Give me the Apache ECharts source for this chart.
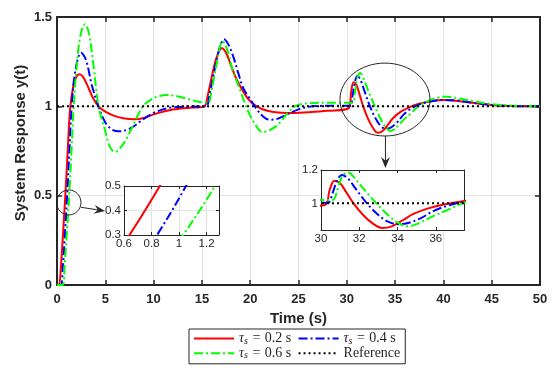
<!DOCTYPE html>
<html>
<head>
<meta charset="utf-8">
<script src="https://cdn.jsdelivr.net/npm/echarts@6/dist/echarts.min.js"></script>
<style>
  html, body { margin: 0; padding: 0; background: #fff; }
  #chart { width: 556px; height: 377px; }
</style>
</head>
<body>
<div id="chart"></div>
<script>
// series names (legend)
const names = ['tau02', 'tau04', 'tau06', 'Reference'];

// tau_s = 0.2 s  (red)
const tRed = [0, 0.2, 0.4, 0.64, 0.86, 1.1, 1.35, 1.7, 2.0, 2.3, 2.7, 3.2, 3.7, 4.3, 5.0, 6.0, 7.0, 8.0, 9.0, 10, 12, 14, 15.2,
  15.6, 16.0, 16.5, 17.05, 17.5, 18.0, 18.6, 19.2, 19.8, 20.4, 21.2, 22.4, 24, 26, 28, 30.2,
  30.45, 30.7, 31.0, 31.3, 31.7, 32.2, 32.7, 33.2, 33.7, 34.3, 34.8, 35.6, 36.4, 37.4, 38.6, 40, 41.5, 43, 45, 47, 50];
const yRed = [0, 0, 0.1, 0.3, 0.5, 0.74, 0.98, 1.12, 1.165, 1.18, 1.165, 1.11, 1.05, 1.0, 0.97, 0.945, 0.932, 0.928, 0.935, 0.955, 0.982, 0.993, 0.997,
  1.06, 1.16, 1.27, 1.325, 1.3, 1.23, 1.15, 1.09, 1.04, 1.01, 0.985, 0.968, 0.962, 0.967, 0.975, 0.99,
  1.08, 1.135, 1.12, 1.07, 1.0, 0.93, 0.88, 0.852, 0.862, 0.9, 0.935, 0.97, 0.993, 1.013, 1.027, 1.035, 1.03, 1.02, 1.008, 1.002, 1.0];

// tau_s = 0.4 s  (blue)
const tBlue = [0, 0.4, 0.6, 0.84, 1.05, 1.3, 1.5, 1.9, 2.5, 3.0, 3.6, 4.3, 5.0, 5.7, 6.4, 7.2, 8.0, 8.6, 9.4, 10.2, 11.5, 13, 15.4,
  15.8, 16.3, 16.8, 17.3, 17.8, 18.3, 18.8, 19.3, 20.0, 20.6, 21.3, 22.0, 22.8, 24.0, 25.0, 26.0, 28, 30.35,
  30.6, 30.85, 31.1, 31.4, 31.8, 32.4, 33.0, 33.5, 34.0, 34.5, 35.2, 35.9, 36.6, 37.4, 38.6, 40, 41.5, 43, 45, 47, 50];
const yBlue = [0, 0, 0.1, 0.3, 0.5, 0.77, 0.98, 1.2, 1.30, 1.26, 1.12, 1.0, 0.91, 0.87, 0.86, 0.868, 0.89, 0.915, 0.945, 0.968, 0.99, 0.998, 1.0,
  1.07, 1.2, 1.32, 1.375, 1.34, 1.27, 1.18, 1.1, 1.04, 0.99, 0.945, 0.925, 0.93, 0.96, 0.983, 0.997, 1.003, 1.003,
  1.06, 1.14, 1.17, 1.15, 1.09, 1.0, 0.93, 0.89, 0.875, 0.88, 0.91, 0.955, 0.985, 1.008, 1.027, 1.036, 1.032, 1.02, 1.008, 1.002, 1.0];

// tau_s = 0.6 s  (green)
const tGreen = [0, 0.6, 0.8, 1.03, 1.26, 1.5, 1.7, 2.0, 2.4, 2.9, 3.3, 3.8, 4.3, 5.0, 5.5, 6.0, 6.6, 7.3, 8.1, 8.9, 9.8, 10.6, 11.4, 12.3, 13.3, 14.3, 15.6,
  16.0, 16.5, 17.15, 17.6, 18.2, 18.9, 19.8, 20.5, 21.2, 22.0, 23.0, 24.0, 24.8, 26, 28, 30.6,
  30.85, 31.1, 31.4, 31.7, 32.2, 32.9, 33.5, 34.0, 34.5, 35.0, 35.8, 36.6, 37.4, 38.6, 39.5, 40.3, 41.5, 43, 45, 47, 50];
const yGreen = [0, 0, 0.12, 0.3, 0.5, 0.75, 0.97, 1.2, 1.39, 1.46, 1.41, 1.22, 1.0, 0.86, 0.77, 0.745, 0.77, 0.83, 0.92, 1.0, 1.04, 1.058, 1.063, 1.058, 1.045, 1.03, 1.02,
  1.09, 1.23, 1.365, 1.32, 1.2, 1.1, 0.97, 0.9, 0.858, 0.865, 0.905, 0.97, 1.005, 1.017, 1.02, 1.02,
  1.08, 1.16, 1.186, 1.16, 1.09, 1.0, 0.93, 0.885, 0.862, 0.875, 0.92, 0.96, 1.0, 1.035, 1.05, 1.054, 1.045, 1.03, 1.012, 1.004, 1.0];

// reference
const tRef = [0, 50];
const yRef = [1, 1];

// axis ticks
const mainX = { min: 0, max: 50, interval: 5 };
const mainY = { min: 0, max: 1.5, interval: 0.5 };
const zoom1X = { min: 0.6, max: 1.29, interval: 0.2 };
const zoom1Y = { min: 0.3, max: 0.5, interval: 0.1 };
const zoom2X = { min: 30, max: 37.5, interval: 2 };
const zoom2Y = { min: 0.84, max: 1.2, ticks: [1, 1.2] };

const zip = (t, y) => t.map((v, i) => [v, y[i]]);
const dataSets = [zip(tRed, yRed), zip(tBlue, yBlue), zip(tGreen, yGreen), zip(tRef, yRef)];
const colors = ['#ff0000', '#0000ff', '#00ff00', '#000000'];
const dashes = ['solid', [9, 3, 2, 3], [9, 3, 2, 3], [2, 3]];

const ink = '#262626';
const grey = '#e3e3e3';

function axisPair(kind, grid, r, big, z) {
  const fs = big ? 13 : 11.5;
  const base = {
    type: 'value', gridIndex: grid, min: r.min, max: r.max, z: z,
    axisLine: { show: true, onZero: false, lineStyle: { color: ink, width: big ? 2 : 1 } },
    axisTick: { show: true, inside: true, length: big ? 5 : 3, lineStyle: { color: ink, width: big ? 1.5 : 1 } },
  };
  if (r.interval) base.interval = r.interval;
  const first = Object.assign({}, base, {
    position: kind === 'x' ? 'bottom' : 'left',
    axisLabel: {
      color: ink, fontFamily: 'Liberation Sans, Arial', fontWeight: big ? 'bold' : 'normal', fontSize: fs,
      margin: big ? (kind === 'x' ? 8 : 5) : 3, showMaxLabel: big || kind === 'y',
      formatter: v => String(+v.toFixed(2))
    },
    splitLine: { show: grid !== 2, lineStyle: { color: grey, width: 1 } }
  });
  if (r.ticks) {
    first.axisLabel.customValues = r.ticks;
    first.axisTick = Object.assign({}, base.axisTick, { customValues: r.ticks });
    first.axisLabel.showMaxLabel = true;
  }
  const second = Object.assign({}, base, {
    position: kind === 'x' ? 'top' : 'right',
    axisLabel: { show: false },
    splitLine: { show: false }
  });
  if (r.ticks) second.axisTick = Object.assign({}, base.axisTick, { customValues: r.ticks });
  if (big && kind === 'x') {
    first.name = 'Time (s)';
    first.nameLocation = 'middle';
    first.nameGap = 26;
    first.nameTextStyle = { color: ink, fontFamily: 'Liberation Sans, Arial', fontWeight: 'bold', fontSize: 15 };
  }
  if (big && kind === 'y') {
    first.name = 'System Response y(t)';
    first.nameLocation = 'middle';
    first.nameGap = 29;
    first.nameMoveOverlap = false;
    // left padding nudges the rotated title a little upward, as in the original figure
    first.nameTextStyle = { color: ink, fontFamily: 'Liberation Sans, Arial', fontWeight: 'bold', fontSize: 15, padding: [0, 0, 0, 16] };
  }
  return [first, second];
}

const xAxes = [
  ...axisPair('x', 0, mainX, true, 0),
  ...axisPair('x', 1, zoom1X, false, 11),
  ...axisPair('x', 2, zoom2X, false, 11)
];
const yAxes = [
  ...axisPair('y', 0, mainY, true, 0),
  ...axisPair('y', 1, zoom1Y, false, 11),
  ...axisPair('y', 2, zoom2Y, false, 11)
];

const series = [];
[0, 1, 2].forEach(g => {
  names.forEach((n, i) => {
    series.push({
      name: n, type: 'line', xAxisIndex: g * 2, yAxisIndex: g * 2,
      data: dataSets[i], showSymbol: false, symbol: 'none', smooth: i === 3 ? false : 0.35,
      clip: true, z: g === 0 ? 2 + (i === 3 ? 1 : 0) : 12 + (i === 3 ? 1 : 0),
      lineStyle: { color: colors[i], width: 2, type: dashes[i] },
      itemStyle: { color: colors[i] },
      emphasis: { disabled: true }, animation: false
    });
  });
});

const legendText = {
  tau02: '{t|τ}{s|s}{n| }{e|=}{n| 0.2 s}{g|}',
  tau04: '{t|τ}{s|s}{n| }{e|=}{n| 0.4 s}',
  tau06: '{t|τ}{s|s}{n| }{e|=}{n| 0.6 s}{g|}',
  Reference: '{n|Reference}'
};

const chart = echarts.init(document.getElementById('chart'));
chart.setOption({
  animation: false,
  backgroundColor: '#fff',
  grid: [
    { left: 57, top: 17, width: 483, height: 268 },
    { left: 124, top: 186, width: 95, height: 49, show: true, backgroundColor: '#fff', borderWidth: 0, z: 10 },
    { left: 321, top: 170, width: 143.5, height: 60, show: true, backgroundColor: '#fff', borderWidth: 0, z: 10 }
  ],
  xAxis: xAxes,
  yAxis: yAxes,
  legend: {
    data: names,
    left: 189, top: 329, width: 240,
    padding: [2.5, 5, 3, 4],
    itemWidth: 40, itemHeight: 4, itemGap: 0.3,
    borderColor: ink, borderWidth: 1, backgroundColor: '#fff',
    selectedMode: false,
    itemStyle: { opacity: 0 },
    formatter: n => legendText[n],
    textStyle: {
      color: ink, fontFamily: 'Liberation Serif', fontSize: 14,
      rich: {
        t: { fontFamily: 'Liberation Serif', fontStyle: 'italic', fontSize: 14, lineHeight: 15 },
        s: { fontFamily: 'Liberation Serif', fontStyle: 'italic', fontSize: 10, lineHeight: 9, verticalAlign: 'bottom' },
        e: { fontFamily: 'Liberation Serif', fontSize: 14, lineHeight: 15, padding: [0, 1, 0, 1] },
        n: { fontFamily: 'Liberation Serif', fontSize: 14, lineHeight: 15 },
        g: { width: 6, lineHeight: 15 }
      }
    }
  },
  series: series
});

// annotations: zoom ellipses and arrows, placed in data coordinates of the main axes
const P = (t, y) => chart.convertToPixel({ gridIndex: 0 }, [t, y]);
function arrow(a, b) {
  const dx = b[0] - a[0], dy = b[1] - a[1];
  const len = Math.hypot(dx, dy), ux = dx / len, uy = dy / len;
  const L = 11, W = 9;
  const bx = b[0] - ux * L, by = b[1] - uy * L;
  return [
    { type: 'line', z: 20, shape: { x1: a[0], y1: a[1], x2: b[0] - ux * 4, y2: b[1] - uy * 4 }, style: { stroke: ink, lineWidth: 1 } },
    { type: 'polygon', z: 20, shape: { points: [b, [bx - uy * W / 2, by + ux * W / 2], [b[0] - ux * L * 0.65, b[1] - uy * L * 0.65], [bx + uy * W / 2, by - ux * W / 2]] }, style: { fill: ink } }
  ];
}
function ellipse(t, y, rt, ry) {
  const c = P(t, y), e = P(t + rt, y + ry);
  return { type: 'ellipse', z: 20, shape: { cx: c[0], cy: c[1], rx: e[0] - c[0], ry: c[1] - e[1] }, style: { fill: 'none', stroke: ink, lineWidth: 1 } };
}
chart.setOption({
  graphic: [
    ellipse(1.22, 0.462, 1.26, 0.07),
    ...arrow(P(2.48, 0.435), P(4.97, 0.414)),
    ellipse(33.95, 1.038, 4.66, 0.204),
    ...arrow(P(34.0, 0.834), P(34.0, 0.655))
  ]
});
</script>
</body>
</html>
